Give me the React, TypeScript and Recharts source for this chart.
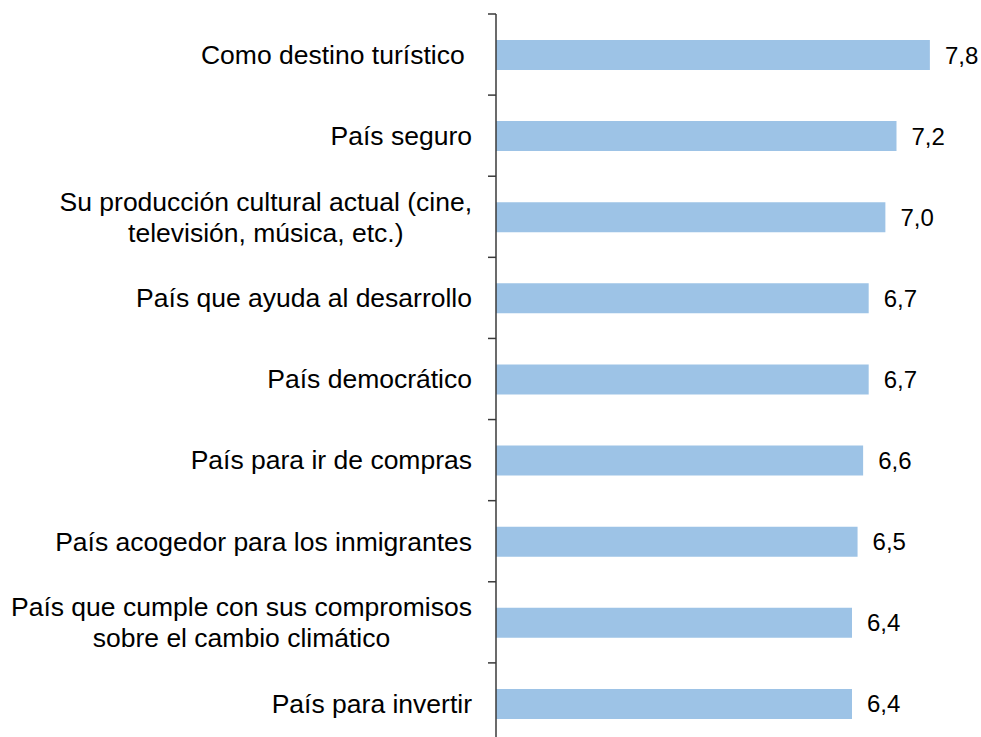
import React from "react";
import { Bar, BarChart, LabelList, XAxis, YAxis } from "recharts";

const categorias = [
  "Como destino turístico ",
  "País seguro",
  "Su producción cultural actual (cine,\ntelevisión, música, etc.)",
  "País que ayuda al desarrollo",
  "País democrático",
  "País para ir de compras",
  "País acogedor para los inmigrantes",
  "País que cumple con sus compromisos\nsobre el cambio climático",
  "País para invertir",
];

const valores = [7.8, 7.2, 7.0, 6.7, 6.7, 6.6, 6.5, 6.4, 6.4];

const escala = [0, 8];

const data = categorias.map((categoria, i) => ({
  categoria,
  valor: valores[i],
}));

const ANCHO = 981;
const ALTO = 745;
const MARGEN = { top: 14, right: 40, bottom: 1, left: 0 };
const MEDIA_BANDA = (ALTO - MARGEN.top - MARGEN.bottom) / categorias.length / 2;
const FUENTE = "'Liberation Sans', Arial, Helvetica, sans-serif";
const TAM_CAT = 26.5;
const TAM_VALOR = 24;
const INTERLINEA = 31;
const COLOR_EJE = "#3a3a3a";

let ctx: CanvasRenderingContext2D | null = null;
function medir(texto: string, tam: number) {
  if (!ctx) ctx = document.createElement("canvas").getContext("2d");
  if (!ctx) return texto.length * tam * 0.5;
  ctx.font = `${tam}px ${FUENTE}`;
  return ctx.measureText(texto).width;
}

const TickCategoria = (props: any) => {
  const { x, y, payload, index } = props;
  const lineas: string[] = String(payload.value).split("\n");
  const derecha = x - 24;
  const ancho = Math.max(...lineas.map((l) => medir(l, TAM_CAT)));
  const base = y + 9.3 - ((lineas.length - 1) * INTERLINEA) / 2;
  return (
    <g>
      <line
        x1={x - 8}
        x2={x}
        y1={y - MEDIA_BANDA}
        y2={y - MEDIA_BANDA}
        stroke={COLOR_EJE}
        strokeWidth={1.5}
      />
      {index === categorias.length - 1 && (
        <line
          x1={x - 8}
          x2={x}
          y1={y + MEDIA_BANDA}
          y2={y + MEDIA_BANDA}
          stroke={COLOR_EJE}
          strokeWidth={1.5}
        />
      )}
      {lineas.map((l, i) => (
        <text
          key={i}
          x={lineas.length > 1 ? derecha - ancho / 2 : derecha}
          y={base + i * INTERLINEA}
          textAnchor={lineas.length > 1 ? "middle" : "end"}
          fontSize={TAM_CAT}
          fontFamily={FUENTE}
          fill="#000"
          style={{ whiteSpace: "pre" }}
        >
          {l}
        </text>
      ))}
    </g>
  );
};

const EtiquetaValor = (props: any) => {
  const { x, y, width, height, value } = props;
  return (
    <text
      x={x + width + 15}
      y={y + height / 2 + 8.6}
      fontSize={TAM_VALOR}
      fontFamily={FUENTE}
      fill="#000"
    >
      {Number(value).toFixed(1).replace(".", ",")}
    </text>
  );
};

export default function App() {
  return (
    <div
      style={{
        position: "absolute",
        left: 0,
        top: 0,
        width: ANCHO,
        height: 737,
        overflow: "hidden",
        background: "#fff",
      }}
    >
      <BarChart
        width={ANCHO}
        height={ALTO}
        data={data}
        layout="vertical"
        margin={MARGEN}
        barSize={30}
      >
        <XAxis type="number" domain={escala} hide />
        <YAxis
          type="category"
          dataKey="categoria"
          width={496}
          interval={0}
          tickSize={0}
          tickMargin={0}
          tickLine={false}
          axisLine={{ stroke: COLOR_EJE, strokeWidth: 1.5 }}
          tick={<TickCategoria />}
        />
        <Bar dataKey="valor" fill="#9dc3e6" isAnimationActive={false}>
          <LabelList dataKey="valor" content={<EtiquetaValor />} />
        </Bar>
      </BarChart>
    </div>
  );
}
